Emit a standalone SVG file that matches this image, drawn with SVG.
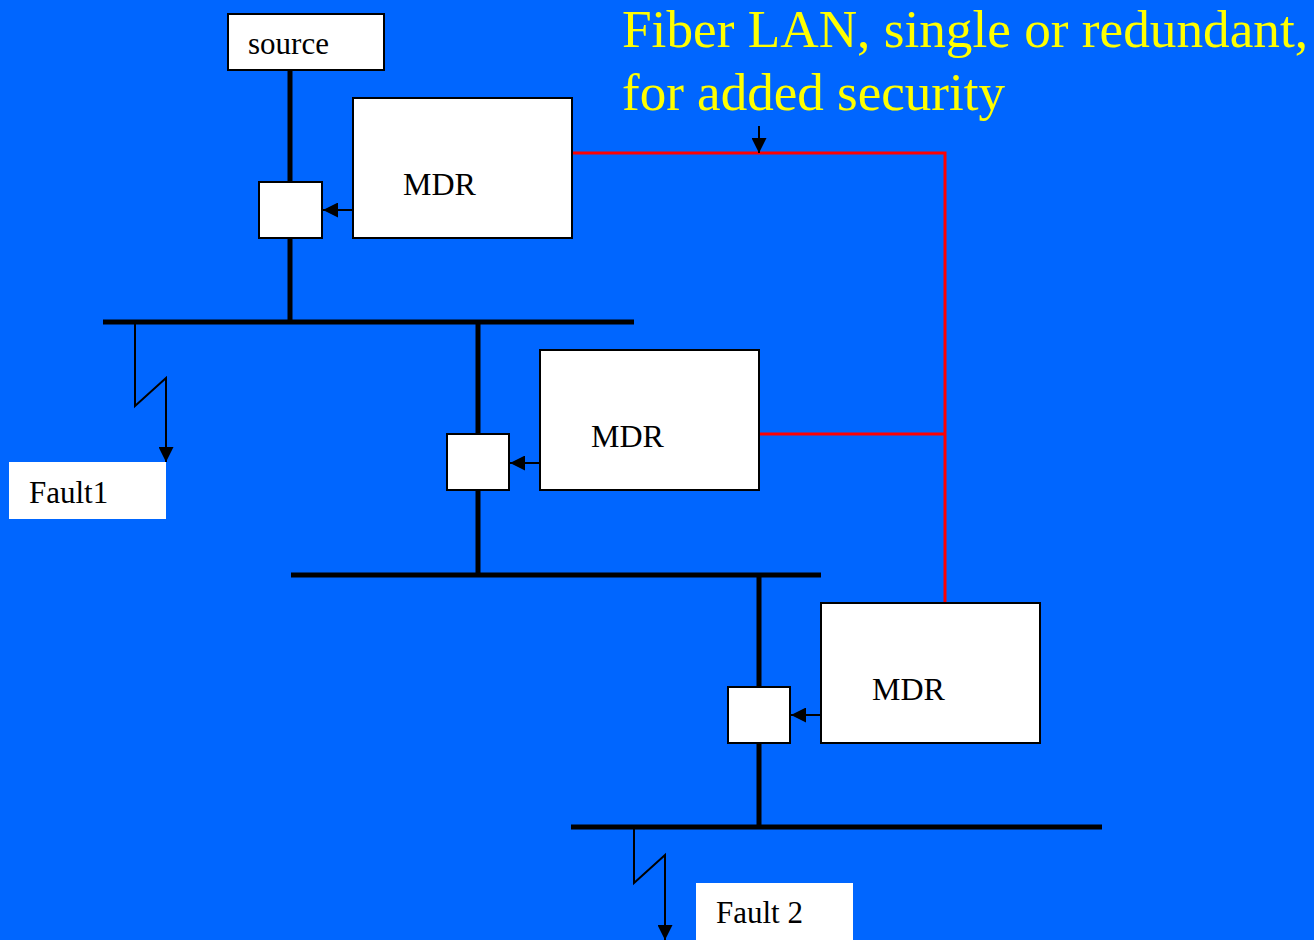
<svg xmlns="http://www.w3.org/2000/svg" width="1314" height="940" viewBox="0 0 1314 940">
<defs>
<style>
.box{fill:#fff;stroke:#000;stroke-width:2}
.lbl{fill:#fff}
.t{font-family:"Liberation Serif","Times New Roman",serif;fill:#000}
.bus{stroke:#000;stroke-width:5;fill:none}
.thin{stroke:#000;stroke-width:2;fill:none}
.red{stroke:#ff0000;stroke-width:3;fill:none}
.title{font-family:"Liberation Serif","Times New Roman",serif;fill:#ffff00;font-size:52px}
</style>
<marker id="ahs" viewBox="0 0 10 10" refX="10" refY="5" markerWidth="15" markerHeight="15" orient="auto" markerUnits="userSpaceOnUse">
<path d="M0,0 L10,5 L0,10 z" fill="#000"/>
</marker>
</defs>
<rect width="1314" height="940" fill="#0066ff"/>
<g id="connectors">
<line class="bus" x1="290" y1="70" x2="290" y2="322"/>
<line class="bus" x1="103" y1="322" x2="634" y2="322"/>
<line class="bus" x1="478" y1="322" x2="478" y2="575"/>
<line class="bus" x1="291" y1="575" x2="821" y2="575"/>
<line class="bus" x1="759" y1="575" x2="759" y2="827"/>
<line class="bus" x1="571" y1="827" x2="1102" y2="827"/>
<polyline class="red" points="572,153 945,153 945,603"/>
<line class="red" x1="759" y1="434" x2="945" y2="434"/>
<line class="thin" x1="759" y1="126" x2="759" y2="153" marker-end="url(#ahs)"/>
<line class="thin" x1="353" y1="210" x2="323" y2="210" marker-end="url(#ahs)"/>
<line class="thin" x1="540" y1="463" x2="510" y2="463" marker-end="url(#ahs)"/>
<line class="thin" x1="821" y1="715" x2="791" y2="715" marker-end="url(#ahs)"/>
<polyline class="thin" points="135,322 135,406 166,378 166,462" marker-end="url(#ahs)"/>
<polyline class="thin" points="634,827 634,883 665,855 665,940" marker-end="url(#ahs)"/>
</g>
<g id="source">
<rect class="box" x="228" y="14" width="156" height="56"/>
<text class="t" x="248" y="54" font-size="31">source</text>
</g>
<g id="breaker1"><rect class="box" x="259" y="182" width="63" height="56"/></g>
<g id="mdr1">
<rect class="box" x="353" y="98" width="219" height="140"/>
<text class="t" x="403" y="195" font-size="32">MDR</text>
</g>
<g id="breaker2"><rect class="box" x="447" y="434" width="62" height="56"/></g>
<g id="mdr2">
<rect class="box" x="540" y="350" width="219" height="140"/>
<text class="t" x="591" y="447" font-size="32">MDR</text>
</g>
<g id="breaker3"><rect class="box" x="728" y="687" width="62" height="56"/></g>
<g id="mdr3">
<rect class="box" x="821" y="603" width="219" height="140"/>
<text class="t" x="872" y="700" font-size="32">MDR</text>
</g>
<g id="fault1">
<rect class="lbl" x="9" y="462" width="157" height="57"/>
<text class="t" x="29" y="503" font-size="31">Fault1</text>
</g>
<g id="fault2">
<rect class="lbl" x="696" y="883" width="157" height="60"/>
<text class="t" x="716" y="923" font-size="31">Fault 2</text>
</g>
<g id="title">
<text class="title" x="622" y="47" textLength="686" lengthAdjust="spacingAndGlyphs">Fiber LAN, single or redundant,</text>
<text class="title" x="622" y="110" textLength="383" lengthAdjust="spacingAndGlyphs">for added security</text>
</g>
</svg>
